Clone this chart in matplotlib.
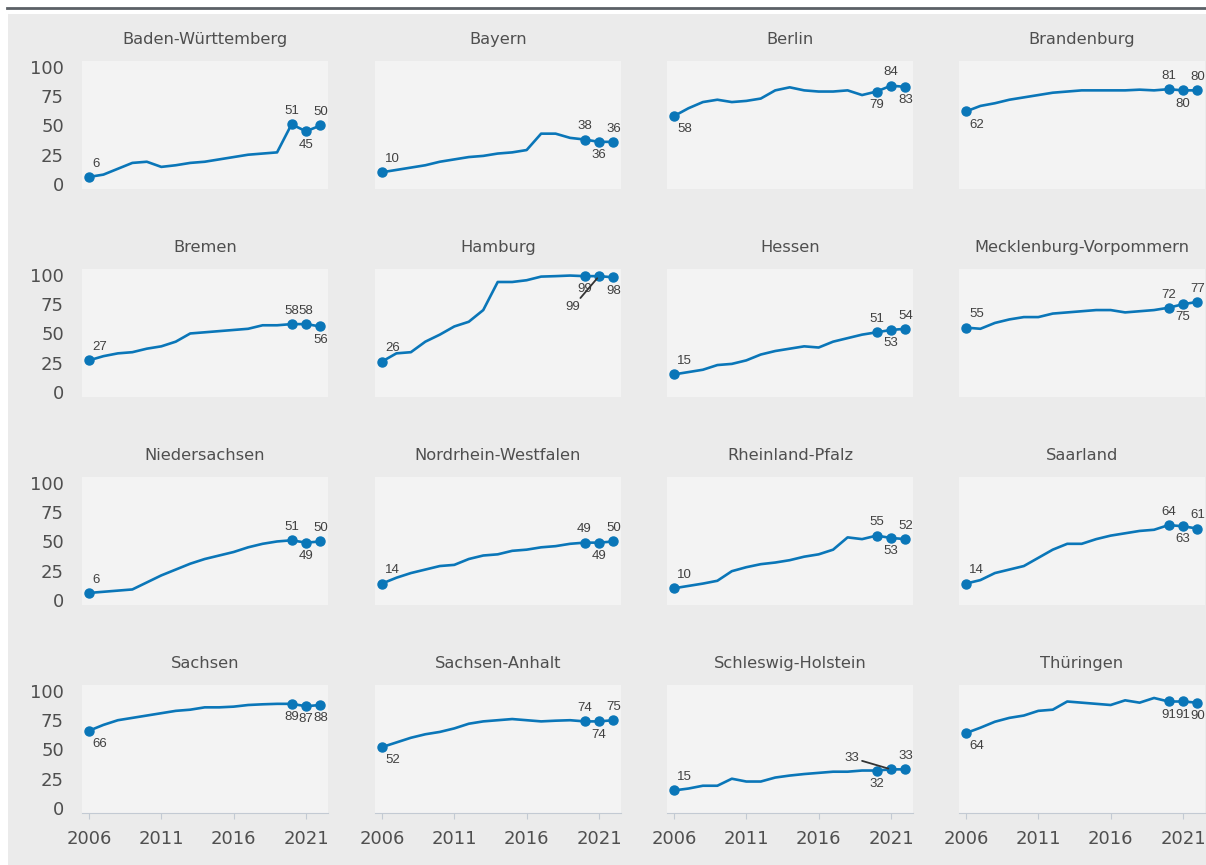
import matplotlib
matplotlib.use("Agg")
import matplotlib.pyplot as plt
from matplotlib.patches import Rectangle
from matplotlib.lines import Line2D

years = list(range(2006, 2023))

names = ["Baden-Württemberg", "Bayern", "Berlin", "Brandenburg",
         "Bremen", "Hamburg", "Hessen", "Mecklenburg-Vorpommern",
         "Niedersachsen", "Nordrhein-Westfalen", "Rheinland-Pfalz", "Saarland",
         "Sachsen", "Sachsen-Anhalt", "Schleswig-Holstein", "Thüringen"]

bw = [6, 8, 13, 18, 19, 14.6, 16, 18, 19, 21, 23, 25, 26, 27, 51, 45, 50]
by = [10, 12, 14, 16, 19, 21, 23, 24, 26, 27, 29, 43, 43, 39.4, 38, 36, 36]
be = [58, 64.7, 70, 72, 70, 71, 73, 80, 82.6, 80, 79, 79, 80, 76, 79, 84, 83]
bb = [62, 66.7, 69, 72, 74, 76, 78, 79, 80, 80, 80, 80, 80.6, 80, 81, 80, 80]
hb = [27, 30.6, 33, 34, 37, 39, 43, 50, 51, 52, 53, 54, 57, 57, 58, 58, 56]
hh = [26, 33, 34, 43, 49, 56, 60, 70, 94, 94, 95.5, 98.6, 99, 99.5, 99, 99, 98]
he = [15, 17, 19, 23, 24, 27, 32, 35, 37, 39, 38, 43, 46, 49, 51, 53, 54]
mv = [55, 54, 59, 62, 64, 64, 67, 68, 69, 70, 70, 68, 69, 70, 72, 75, 77]
ni = [6, 7, 8, 9, 15, 21, 26, 31, 35, 38, 41, 45, 48, 50, 51, 49, 50]
nw = [14, 19, 23, 26, 29, 30, 35, 38, 39, 42, 43, 45, 46, 48, 49, 49, 50]
rp = [10, 12, 14, 16.4, 24.6, 28, 30.6, 32, 34, 37, 39, 43, 53.5, 52, 55, 53, 52]
sl = [14, 17, 23, 26, 29, 36, 43, 48, 48, 52, 55, 57, 59, 60, 64, 63, 61]
sn = [66, 71, 75, 77, 79, 81, 83, 84, 86, 86, 86.6, 88, 88.6, 89, 89, 87, 88]
st = [52, 56, 60, 63, 65, 68, 72, 74, 75, 76, 75, 74, 74.6, 75, 74, 74, 75]
sh = [15, 16.6, 19, 19, 25, 22.6, 22.6, 26, 27.7, 29, 30, 31, 31, 32, 32, 33, 33]
th = [64, 68.6, 73.7, 77, 79, 83, 84, 91, 90, 89, 88, 92, 90, 94, 91, 91, 90]

series = [bw, by, be, bb, hb, hh, he, mv, ni, nw, rp, sl, sn, st, sh, th]

# label placement for points 2006, 2020, 2021, 2022 ('a' above, 'b' below, 'l' leader line)
placement = [
    "aaba", "aaba", "bbab", "baba",
    "aaab", "ablb", "aaba", "aaba",
    "aaba", "aaba", "aaba", "aaba",
    "bbbb", "baba", "abla", "bbbb",
]
leader_pos = {5: (2019.2, 72.8), 14: (2018.3, 42.8)}

yticks = [0, 25, 50, 75, 100]
xticks = [2006, 2011, 2016, 2021]

W, H = 1206, 865
fig = plt.figure(figsize=(W / 100, H / 100), dpi=100)
fig.patch.set_facecolor("white")
fig.add_artist(Rectangle((8 / W, 0), 1, (H - 14) / H, transform=fig.transFigure,
                         facecolor="#ebebeb", edgecolor="none", zorder=-10))
fig.add_artist(Line2D([7 / W, 1], [1 - 8 / H] * 2, transform=fig.transFigure,
                      color="#5b6066", lw=2.0))

blue = "#0a76b8"
txtc = "#4f4f4f"
labc = "#404040"
labfont = ["Liberation Sans", "DejaVu Sans"]
lefts = [82, 375, 667, 959]
tops = [61, 269, 477, 685]
aw, ah = 246, 128
idx_lab = [0, 14, 15, 16]
fs_lab = 9.5

for i, (name, vals) in enumerate(zip(names, series)):
    r, c = divmod(i, 4)
    ax = fig.add_axes([lefts[c] / W, (H - tops[r] - ah) / H, aw / W, ah / H])
    ax.set_facecolor("#f3f3f3")
    ax.set_xlim(2005.52, 2022.52)
    ax.set_ylim(-4.3, 105.1)
    for s in ax.spines.values():
        s.set_visible(False)
    ax.plot(years, vals, color=blue, lw=1.9, solid_capstyle="round", zorder=3)
    ax.plot([years[k] for k in idx_lab], [vals[k] for k in idx_lab], "o",
            color=blue, ms=6.5, zorder=4)
    ax.set_title(name, fontsize=11.7, color=txtc, pad=12)
    ax.set_yticks(yticks)
    ax.tick_params(axis="y", length=0, pad=13, labelsize=13, labelcolor=txtc)
    if c != 0:
        ax.set_yticklabels([])
    ax.set_xticks(xticks)
    if r == 3:
        ax.spines["bottom"].set_visible(True)
        ax.spines["bottom"].set_color("#c3cad3")
        ax.tick_params(axis="x", length=4.5, color="#c3cad3", pad=8,
                       labelsize=13, labelcolor=txtc)
    else:
        ax.tick_params(axis="x", length=0, labelbottom=False)
    for j, k in enumerate(idx_lab):
        p = placement[i][j]
        x, y = years[k], vals[k]
        lab = f"{round(y)}"
        if p == "l":
            ax.annotate(lab, xy=(x, y), xytext=leader_pos[i], fontsize=fs_lab,
                        family=labfont, color=labc, ha="center", va="center",
                        arrowprops=dict(arrowstyle="-", color="#333333", lw=1.3,
                                        shrinkA=0, shrinkB=2), zorder=5)
            continue
        dy = 9.5 if p == "a" else -9.5
        if j == 0:
            ax.annotate(lab, xy=(x, y), xytext=(2.5, dy), textcoords="offset points",
                        fontsize=fs_lab, family=labfont, color=labc, ha="left",
                        va="center", annotation_clip=False, zorder=5)
        else:
            ax.annotate(lab, xy=(x, y), xytext=(0, dy), textcoords="offset points",
                        fontsize=fs_lab, family=labfont, color=labc, ha="center",
                        va="center", annotation_clip=False, zorder=5)

fig.savefig("out.png", dpi=100)
